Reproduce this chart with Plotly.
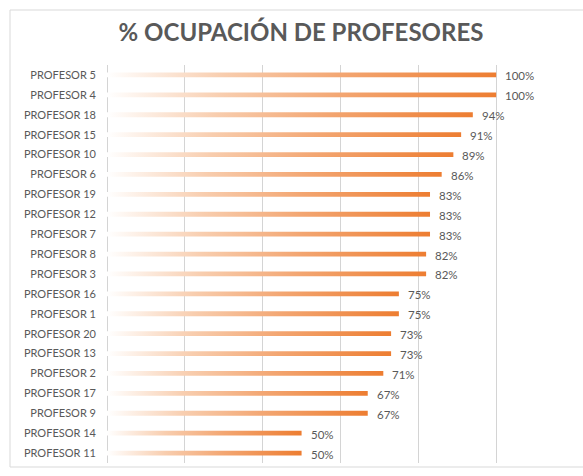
import plotly.graph_objects as go

categories = ["PROFESOR 5", "PROFESOR 4", "PROFESOR 18", "PROFESOR 15", "PROFESOR 10",
              "PROFESOR 6", "PROFESOR 19", "PROFESOR 12", "PROFESOR 7", "PROFESOR 8",
              "PROFESOR 3", "PROFESOR 16", "PROFESOR 1", "PROFESOR 20", "PROFESOR 13",
              "PROFESOR 2", "PROFESOR 17", "PROFESOR 9", "PROFESOR 14", "PROFESOR 11"]
values = [1.00, 1.00, 0.94, 0.91, 0.89, 0.86, 0.83, 0.83, 0.83, 0.82,
          0.82, 0.75, 0.75, 0.73, 0.73, 0.71, 0.67, 0.67, 0.50, 0.50]
x_ticks = [0, 0.2, 0.4, 0.6, 0.8, 1.0, 1.2]

TITLE = "% OCUPACIÓN DE PROFESORES"
GRAY = "#595959"
GRID = "#D4D4D4"
FONT = "Lato"
HALF = 0.12

W, H = 583, 476
L, R, T, B = 107, 9, 65, 13

fig = go.Figure()

gradient = [[0.0, "#FFFFFF"], [0.3, "#F8CDAE"], [0.6, "#F3A672"], [1.0, "#ED7D31"]]

for i, v in enumerate(values):
    fig.add_trace(go.Scatter(
        x=[0, v, v, 0, 0],
        y=[i - HALF, i - HALF, i + HALF, i + HALF, i - HALF],
        mode="lines",
        line=dict(width=0, color="rgba(0,0,0,0)"),
        fill="toself",
        fillcolor="#ED7D31",
        fillgradient=dict(type="horizontal", colorscale=gradient),
        hoverinfo="skip",
        showlegend=False,
    ))

for i, v in enumerate(values):
    fig.add_annotation(
        x=v, y=i, text=f"{round(v * 100)}%", showarrow=False,
        xanchor="left", yanchor="middle", xshift=7, yshift=-1,
        font=dict(family=FONT, size=11.5, color=GRAY),
    )

pw = W - L - R
ph = H - T - B
fig.add_shape(
    type="rect", xref="paper", yref="paper",
    x0=(10 - L) / pw, x1=(W + 20 - L) / pw,
    y0=(H - B - 467) / ph, y1=(H - B - 10) / ph,
    line=dict(color="#D9D9D9", width=1), fillcolor="rgba(0,0,0,0)", layer="below",
)

fig.update_layout(
    width=W, height=H,
    margin=dict(l=L, r=R, t=T, b=B),
    paper_bgcolor="white", plot_bgcolor="white",
    title=dict(text=TITLE, x=301 / W, xref="container", xanchor="center",
               y=1 - 33 / H, yref="container", yanchor="middle",
               font=dict(family=FONT, size=24, color=GRAY, weight="bold")),
    xaxis=dict(range=[0, 1.2], tickvals=x_ticks, showticklabels=False,
               showgrid=True, gridcolor=GRID, gridwidth=1.3,
               zeroline=True, zerolinecolor=GRID, zerolinewidth=1.3,
               showline=False, fixedrange=True),
    yaxis=dict(range=[len(categories) - 0.5, -0.5], tickvals=list(range(len(categories))),
               ticktext=categories, showgrid=False, zeroline=False, showline=False,
               ticklabelstandoff=10, fixedrange=True,
               tickfont=dict(family=FONT, size=11, color=GRAY)),
    showlegend=False,
)

fig.write_html("out.html", config={"displayModeBar": False},
               post_script="document.body.style.margin='0';document.body.style.overflow='hidden';")
